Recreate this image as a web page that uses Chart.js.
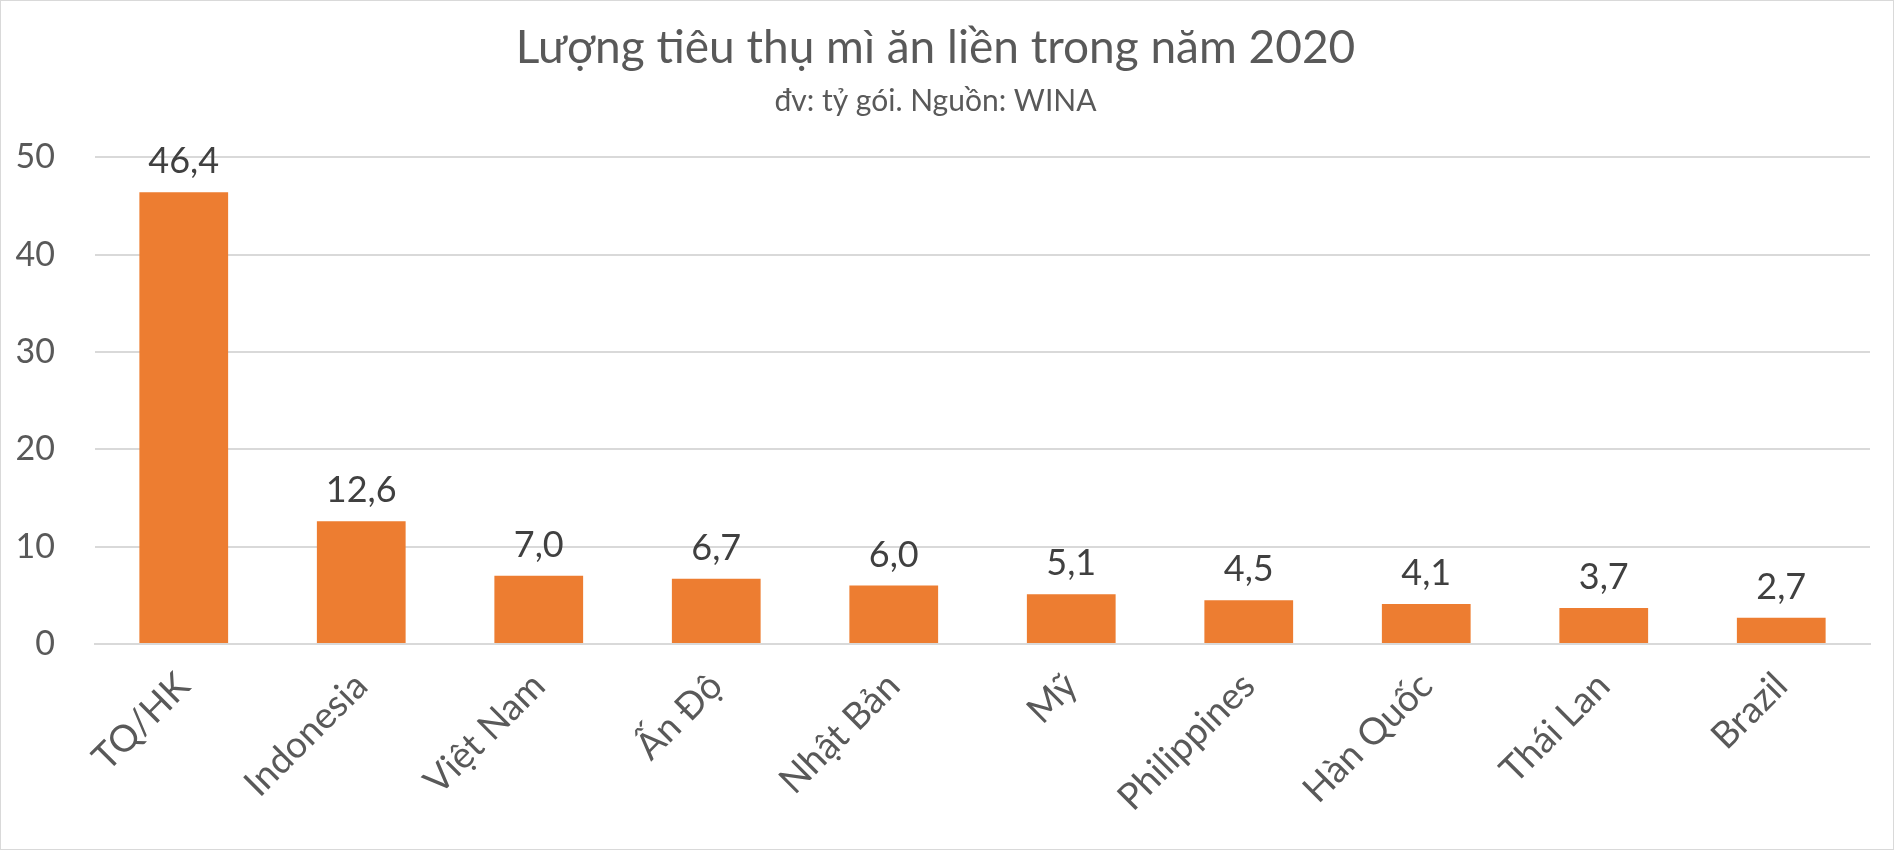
<!DOCTYPE html>
<html lang="vi">
<head>
<meta charset="utf-8">
<title>Lượng tiêu thụ mì ăn liền trong năm 2020</title>
<script src="https://cdn.jsdelivr.net/npm/chart.js@4.4.1/dist/chart.umd.min.js"></script>
<style>
  html, body { margin: 0; padding: 0; background: #fff; }
  #khung {
    width: 1894px; height: 850px;
    box-sizing: border-box;
    border: 1px solid #d9d9d9;
  }
  #bieudo { display: block; }
</style>
</head>
<body>
<div id="khung"><canvas id="bieudo" width="1892" height="848"></canvas></div>
<script>
// Dữ liệu: tỷ gói mì ăn liền năm 2020 (nguồn WINA)
const quocGia = ["TQ/HK", "Indonesia", "Việt Nam", "Ấn Độ", "Nhật Bản", "Mỹ", "Philippines", "Hàn Quốc", "Thái Lan", "Brazil"];
const luongTieuThu = [46.4, 12.6, 7.0, 6.7, 6.0, 5.1, 4.5, 4.1, 3.7, 2.7];
const mocTrucY = [0, 10, 20, 30, 40, 50];

const FONT = "Lato, 'Open Sans', sans-serif";

// Nhãn giá trị phía trên mỗi cột (dấu phẩy thập phân)
const nhanGiaTri = {
  id: "nhanGiaTri",
  afterDatasetsDraw(chart) {
    const ctx = chart.ctx;
    const meta = chart.getDatasetMeta(0);
    ctx.save();
    ctx.font = "36px " + FONT;
    ctx.fillStyle = "#404040";
    ctx.textAlign = "center";
    ctx.textBaseline = "alphabetic";
    meta.data.forEach((bar, i) => {
      const v = chart.data.datasets[0].data[i];
      ctx.fillText(v.toFixed(1).replace(".", ","), bar.x, bar.y - 19);
    });
    ctx.restore();
  }
};

document.addEventListener("DOMContentLoaded", function () {
  const ctx = document.getElementById("bieudo").getContext("2d");
  new Chart(ctx, {
    type: "bar",
    data: {
      labels: quocGia,
      datasets: [{
        label: "Tỷ gói",
        data: luongTieuThu,
        backgroundColor: "#ED7D31",
        borderWidth: 0,
        categoryPercentage: 1,
        barPercentage: 0.5
      }]
    },
    options: {
      responsive: false,
      animation: false,
      layout: { padding: { top: 0, right: 23, bottom: 0, left: 0 } },
      plugins: {
        legend: { display: false },
        tooltip: { enabled: false },
        title: {
          display: true,
          text: "Lượng tiêu thụ mì ăn liền trong năm 2020",
          color: "#595959",
          font: { family: FONT, size: 46, weight: "normal" },
          padding: { top: 20, bottom: 3 }
        },
        subtitle: {
          display: true,
          text: "đv: tỷ gói. Nguồn: WINA",
          color: "#595959",
          font: { family: FONT, size: 30, weight: "normal" },
          padding: { top: 4, bottom: 38 }
        }
      },
      scales: {
        x: {
          grid: { display: false },
          border: { display: true, color: "#d9d9d9", width: 2 },
          ticks: {
            color: "#595959",
            font: { family: FONT, size: 37 },
            minRotation: 45,
            maxRotation: 45,
            padding: 12,
            autoSkip: false
          },
          afterFit(scale) { scale.height = 205; }
        },
        y: {
          min: 0,
          max: 50,
          grid: { color: "#d9d9d9", lineWidth: 2, drawTicks: false },
          border: { display: false },
          afterBuildTicks(scale) { scale.ticks = mocTrucY.map(v => ({ value: v })); },
          ticks: {
            color: "#595959",
            font: { family: FONT, size: 34 },
            padding: 40
          },
          afterFit(scale) { scale.width = 94; }
        }
      }
    },
    plugins: [nhanGiaTri]
  });
});
</script>
</body>
</html>
